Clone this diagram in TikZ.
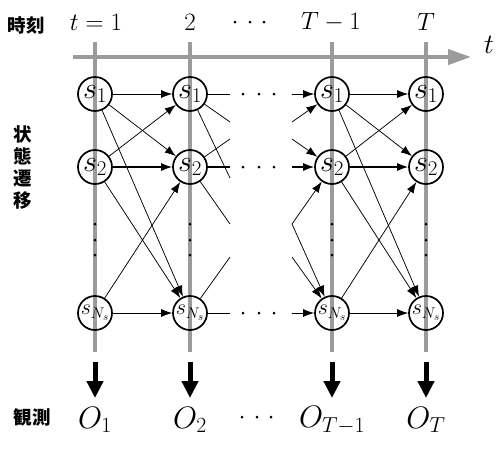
\documentclass[tikz,border=0pt]{standalone}
\usepackage{fix-cm}
\usepackage{fontspec}
\newfontfamily\jp{Noto Sans CJK JP Black}
\usetikzlibrary{arrows.meta}
\definecolor{axisgray}{RGB}{155,155,155}
\tikzset{
  st/.style={circle,draw=black,line width=1.7pt,minimum size=34pt,inner sep=0pt,font=\fontsize{30}{30}\selectfont},
  stN/.style={st,font=\fontsize{22}{22}\selectfont},
  tr/.style={line width=0.75pt,-{Latex[length=11pt,width=8pt]}},
  trl/.style={line width=0.75pt},
  trh/.style={line width=1.3pt,-{Latex[length=11pt,width=8pt]}},
  trhl/.style={line width=1.3pt},
  vline/.style={axisgray,line width=3.5pt},
  obsarr/.style={line width=5pt,-{Triangle[length=17pt,width=16pt]}},
  toplab/.style={font=\fontsize{25}{25}\selectfont},
  obslab/.style={font=\fontsize{31}{31}\selectfont},
  jplab/.style={font=\jp\fontsize{18.5}{22}\selectfont,inner sep=0pt},
  dot/.style={circle,fill=black,inner sep=0pt,minimum size=3pt}
}
\begin{document}
\begin{tikzpicture}[x=1pt,y=-1pt]
\useasboundingbox (0,0) rectangle (500,459);
% vertical gray lines
\foreach \x in {95,190,332,426} \draw[vline] (\x,42) -- (\x,352);
% time axis
\coordinate (ax0) at (73,57);
\coordinate (ax1) at (471,57);
\draw[axisgray,line width=4pt,-{Triangle[length=23pt,width=15pt]}] (ax0) -- (ax1);
\node[font=\fontsize{28}{28}\selectfont] (tax) at (489,45) {$t$};
% top labels
\node[jplab] (jikoku) at (26,25) {時刻};
\node[toplab] (t1) at (96,22) {$t=1$};
\node[toplab] (t2) at (190,22) {$2$};
\node[dot] (td1) at (235,22) {}; \node[dot] (td2) at (250,22) {}; \node[dot] (td3) at (264,22) {};
\node[toplab] (t3) at (331,22) {$T-1$};
\node[toplab] (t4) at (426,22) {$T$};
% vertical label
\node[jplab,align=center] (seni) at (23,167) {状\\態\\遷\\移};
% nodes
\foreach \c/\x in {A/95,B/190,C/332,D/426}{
  \node[st] (\c1) at (\x,94) {$s_1$};
  \node[st] (\c2) at (\x,167) {$s_2$};
  \node[stN] (\c3) at (\x,313) {$s_{N_s}$};
  \node[dot] (\c v1) at (\x,224) {};
  \node[dot] (\c v2) at (\x,240) {};
  \node[dot] (\c v3) at (\x,255) {};
}
% full transitions col1->col2 and col3->col4
\foreach \p/\q in {A/B,C/D}{
  \draw[tr] (\p1) -- (\q1);
  \draw[tr] (\p1) -- (\q2);
  \draw[tr] (\p1) -- (\q3);
  \draw[tr] (\p2) -- (\q1);
  \draw[trh] (\p2) -- (\q2);
  \draw[tr] (\p2) -- (\q3);
  \draw[tr] (\p3) -- (\q2);
  \draw[tr] (\p3) -- (\q3);
}
% partial outgoing from col2
\coordinate (o11) at (230,94);
\coordinate (o12) at (230,122);
\coordinate (o13) at (230,178);
\coordinate (o21) at (230,139);
\coordinate (o22) at (230,167);
\coordinate (o23) at (230,224);
\coordinate (o32) at (230,257);
\coordinate (o33) at (230,313);
\draw[trl] (B1) -- (o11);
\draw[trl] (B1) -- (o12);
\draw[trl] (B1) -- (o13);
\draw[trl] (B2) -- (o21);
\draw[trhl] (B2) -- (o22);
\draw[trl] (B2) -- (o23);
\draw[trl] (B3) -- (o32);
\draw[trl] (B3) -- (o33);
% partial incoming to col3
\coordinate (i11) at (292,94);
\coordinate (i21) at (292,122);
\coordinate (i12) at (292,139);
\coordinate (i22) at (292,167);
\coordinate (i32) at (292,224);
\coordinate (i23) at (292,224);
\coordinate (i13) at (292,257);
\coordinate (i33) at (292,313);
\draw[tr] (i11) -- (C1);
\draw[tr] (i21) -- (C1);
\draw[tr] (i12) -- (C2);
\draw[trh] (i22) -- (C2);
\draw[tr] (i32) -- (C2);
\draw[tr] (i23) -- (C3);
\draw[tr] (i13) -- (C3);
\draw[tr] (i33) -- (C3);
% middle dots
\foreach \y/\r in {94/1,167/2,313/3}{
  \node[dot] (m\r a) at (243,\y) {};
  \node[dot] (m\r b) at (259,\y) {};
  \node[dot] (m\r c) at (274,\y) {};
}
% observation arrows
\foreach \c/\x in {A/95,B/190,C/332,D/426}{
  \coordinate (\c oa) at (\x,362);
  \coordinate (\c ob) at (\x,398);
  \draw[obsarr] (\c oa) -- (\c ob);
}
% observation labels
\node[jplab] (kansoku) at (32,417) {観測};
\node[obslab] (O1) at (95,420) {$O_1$};
\node[obslab] (O2) at (190,420) {$O_2$};
\node[dot] (bd1) at (242,417) {}; \node[dot] (bd2) at (257,417) {}; \node[dot] (bd3) at (271,417) {};
\node[obslab] (O3) at (332,420) {$O_{T-1}$};
\node[obslab] (O4) at (426,420) {$O_T$};
\end{tikzpicture}
\end{document}
